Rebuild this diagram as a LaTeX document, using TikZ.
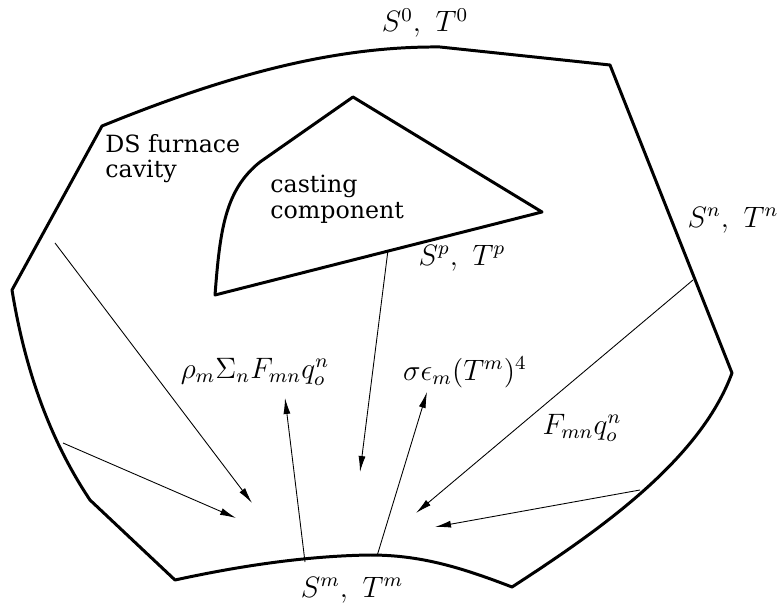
\documentclass[tikz,border=0pt]{standalone}
\usepackage{fontspec}
\newfontfamily\dvserif{DejaVu Serif}
\usetikzlibrary{arrows.meta}

\begin{document}
\begin{tikzpicture}[x=0.02cm, y=-0.02cm,
    wall/.style={line width=1.7pt, line join=round},
    flux/.style={-{Latex[length=3.2mm,width=1.4mm]}, line width=0.5pt},
    mlbl/.style={font=\large, scale=1.4, inner sep=0pt},
    tlbl/.style={font=\dvserif\fontsize{13.5}{14.5}\selectfont, align=left, inner sep=0pt}]
    \useasboundingbox (0,0) rectangle (780,607);
    % furnace wall
    \draw[wall] (102,126) .. controls (220,78) and (330,46) .. (440,47)
        -- (610,65) -- (732,373)
        .. controls (700,460) and (600,530) .. (512,587)
        .. controls (460,567) and (420,555) .. (370,555)
        .. controls (300,556) and (230,568) .. (175,580)
        -- (90,500) .. controls (50,440) and (25,370) .. (12,290) -- cycle;
    % casting component
    \draw[wall] (353,97) -- (542,212) -- (215,295)
        .. controls (220,230) and (225,190) .. (260,162) -- cycle;
    % labels
    \node[mlbl] (s0) at (425,23) {$S^0,\ T^0$};
    \node[tlbl, anchor=north west] (cav) at (105,134) {DS furnace\\cavity};
    \node[tlbl, anchor=north west] (cast) at (270,175) {casting\\component};
    \node[mlbl] (sp) at (462,258) {$S^p,\ T^p$};
    \node[mlbl] (sn) at (733,220) {$S^n,\ T^n$};
    \node[mlbl] (rho) at (255,372) {$\rho_m\Sigma_nF_{mn}q_o^n$};
    \node[mlbl] (sig) at (465,372) {$\sigma\epsilon_m(T^m)^4$};
    \node[mlbl] (fq) at (582,428) {$F_{mn}q_o^n$};
    \node[mlbl] (sm) at (352,590) {$S^m,\ T^m$};
    % ends of the flux arrows
    \coordinate (wl1) at (55,243);
    \coordinate (wl2) at (63,443);
    \coordinate (wr1) at (693,280);
    \coordinate (wr2) at (640,490);
    \coordinate (cp) at (388,250);
    \coordinate (bm1) at (305,562);
    \coordinate (bm2) at (377,556);
    \coordinate (in1) at (252,503);
    \coordinate (in2) at (236,518);
    \coordinate (in3) at (360,472);
    \coordinate (in4) at (416,513);
    \coordinate (in5) at (435,527);
    \coordinate (out1) at (285,398);
    \coordinate (out2) at (427,392);
    % incoming and leaving fluxes
    \draw[flux] (wl1) -- (in1);
    \draw[flux] (wl2) -- (in2);
    \draw[flux] (cp) -- (in3);
    \draw[flux] (wr1) -- (in4);
    \draw[flux] (wr2) -- (in5);
    \draw[flux] (bm1) -- (out1);
    \draw[flux] (bm2) -- (out2);
\end{tikzpicture}
\end{document}
